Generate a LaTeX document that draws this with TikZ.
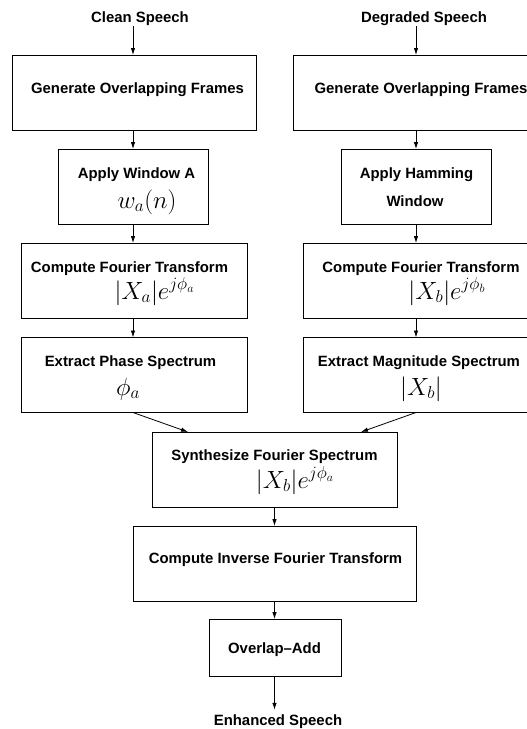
\documentclass[tikz,border=0pt]{standalone}
\usepackage{fontspec}
\setmainfont{Liberation Sans}
\usetikzlibrary{arrows.meta,calc}
\begin{document}
\begin{tikzpicture}[x=1pt,y=-1pt,
  box/.style={draw,line width=0.9pt,inner sep=0pt,outer sep=0pt,minimum height=75pt},
  lbl/.style={font=\fontsize{14.9}{17}\selectfont\bfseries,inner sep=0pt,anchor=base},
  eq/.style={font=\fontsize{24}{28}\selectfont,inner sep=0pt,anchor=base},
  arr/.style={-{Latex[length=7pt,width=4.5pt]},line width=0.8pt}]
\useasboundingbox (0,0) rectangle (527,729);
\clip (0,0) rectangle (527,729);
% boxes
\node[box,minimum width=244pt] (L1) at (134,92.5) {};
\node[box,minimum width=246pt] (R1) at (416,92.5) {};
\node[box,minimum width=150pt] (L2) at (133,186.5) {};
\node[box,minimum width=150pt] (R2) at (416,186.5) {};
\node[box,minimum width=226pt] (L3) at (134,280.5) {};
\node[box,minimum width=226pt] (R3) at (416,280.5) {};
\node[box,minimum width=226pt] (L4) at (134,375) {};
\node[box,minimum width=226pt] (R4) at (416,375) {};
\node[box,minimum width=245pt] (S5) at (274.5,469.5) {};
\node[box,minimum width=283pt] (I6) at (274.5,563.5) {};
\node[box,minimum width=132pt,minimum height=57pt] (O7) at (275,647.5) {};
% texts
\node[lbl] (clean) at (140,22.5) {Clean Speech};
\node[lbl] (degraded) at (424,22.5) {Degraded Speech};
\node[lbl] (gL) at (137.5,93.4) {Generate Overlapping Frames};
\node[lbl] (gR) at (421,93.4) {Generate Overlapping Frames};
\node[lbl] (awA) at (136.5,178.4) {Apply Window A};
\node[eq] (wa) at (147,208) {$w_a(n)$};
\node[lbl] (ah1) at (416.5,178.4) {Apply Hamming};
\node[lbl] (ah2) at (415,206.4) {Window};
\node[lbl] (cL) at (129.5,272.4) {Compute Fourier Transform};
\node[eq] (XaL) at (154.5,299) {$|X_a|e^{j\phi_a}$};
\node[lbl] (cR) at (421,272.4) {Compute Fourier Transform};
\node[eq] (XbR) at (447,299) {$|X_b|e^{j\phi_b}$};
\node[lbl] (eP) at (130.5,366.4) {Extract Phase Spectrum};
\node[eq] (phi) at (128,395) {$\phi_a$};
\node[lbl] (eM) at (419,366.4) {Extract Magnitude Spectrum};
\node[eq] (Xb) at (421,395) {$|X_b|$};
\node[lbl] (syn) at (274.5,460.4) {Synthesize Fourier Spectrum};
\node[eq] (synf) at (295,488) {$|X_b|e^{j\phi_a}$};
\node[lbl] (inv) at (275.5,563.4) {Compute Inverse Fourier Transform};
\node[lbl] (ola) at (274.5,653.4) {Overlap--Add};
\node[lbl] (enh) at (278,725.3) {Enhanced Speech};
% connectors
\draw[arr] (L2.north |- clean.south) -- (L2.north |- L1.north);
\draw[arr] (R1.north |- degraded.south) -- (R1.north);
\draw[arr] (L2.north |- L1.south) -- (L2.north);
\draw[arr] (R1.south) -- (R2.north);
\draw[arr] (L2.south) -- (L2.south |- L3.north);
\draw[arr] (R2.south) -- (R3.north);
\draw[arr] (L2.south |- L3.south) -- (L2.south |- L4.north);
\draw[arr] (R3.south) -- (R4.north);
\draw[arr] (L2.south |- L4.south) -- ($(S5.north west)+(36,0)$);
\draw[arr] (R4.south) -- ($(S5.north east)+(-36,0)$);
\draw[arr] (S5.south) -- (I6.north);
\draw[arr] (I6.south) -- (I6.south |- O7.north);
\draw[arr] (I6.south |- O7.south) -- ($(I6.south |- enh.north)+(0,-4.5)$);
\end{tikzpicture}
\end{document}
